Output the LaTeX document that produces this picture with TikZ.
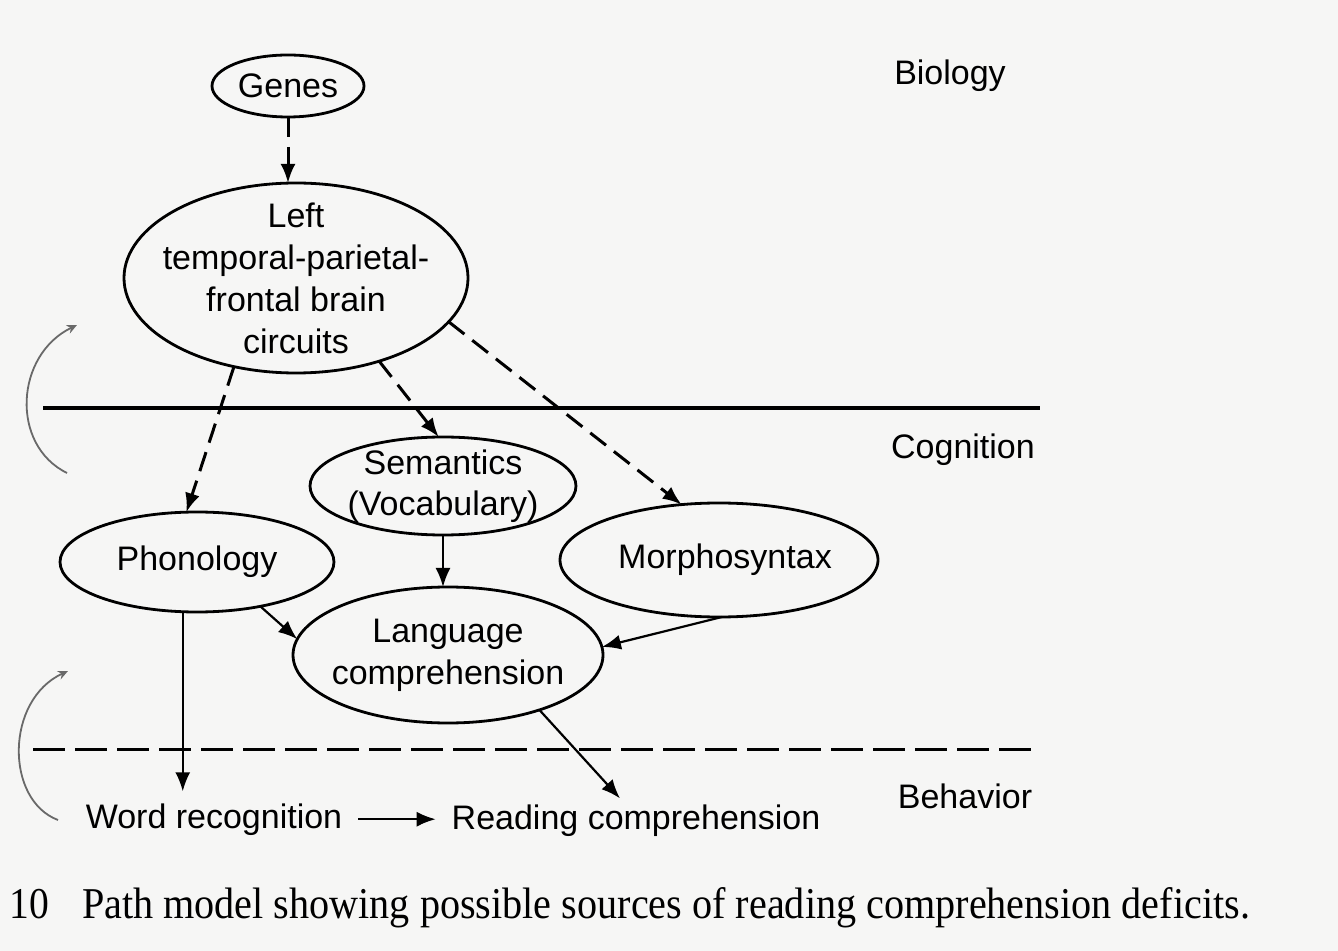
\documentclass[tikz,border=0pt]{standalone}
\usepackage{fontspec}
\setmainfont{Liberation Sans}
\newfontfamily\captionfont{Liberation Serif}
\usetikzlibrary{shapes.geometric,arrows.meta,calc}
\definecolor{paper}{RGB}{246,246,245}
\definecolor{arcgray}{RGB}{105,105,105}

\begin{document}
\begin{tikzpicture}[x=0.5pt,y=-0.5pt,
  every node/.style={inner sep=0pt, outer sep=0pt},
  txt/.style={align=center, font=\fontsize{17}{21}\selectfont},
  box/.style={ellipse, draw, line width=1.4pt},
  lbl/.style={font=\fontsize{17}{21}\selectfont},
  tip/.style={-{Latex[length=9.5pt,width=7.5pt]}},
  dlink/.style={tip, line width=1.5pt, dash pattern=on 10pt off 5pt},
  slink/.style={tip, line width=1.1pt},
  turn/.style={arcgray, line width=0.9pt, -{Stealth[length=5pt,width=4.5pt]}},
]
% page
\fill[paper] (0,0) rectangle (1338,951);
\useasboundingbox (0,0) rectangle (1338,951);

% level dividers
\coordinate (bioL) at (43,408);
\coordinate (bioR) at (1040,408);
\coordinate (cogL) at (33,749);
\coordinate (cogR) at (1038,749);
\draw[line width=1.9pt] (bioL) -- (bioR);
\draw[line width=1.5pt, dash pattern=on 16pt off 5pt] (cogL) -- (cogR);

% level names
\node[lbl, anchor=base] (biology) at (950,85) {Biology};
\node[lbl, anchor=base] (cognition) at (963,459) {Cognition};
\node[lbl, anchor=base] (behavior) at (965,808) {Behavior};

% constructs
\node[box, minimum width=76pt, minimum height=31pt,
      label={[txt]center:Genes}] (genes) at (288,86) {};
\node[box, minimum width=172pt, minimum height=95pt,
      label={[txt]center:{Left\\temporal-parietal-\\frontal brain\\circuits}}] (brain) at (296,278) {};
\node[box, minimum width=133pt, minimum height=49pt,
      label={[txt, font=\fontsize{17}{20.5}\selectfont]center:{Semantics\\(Vocabulary)}}] (sem) at (443,486) {};
\node[box, minimum width=137pt, minimum height=50pt,
      label={[txt]center:Phonology}] (phon) at (197,562) {};
\node[box, minimum width=159pt, minimum height=57pt,
      label={[txt, xshift=3pt]center:Morphosyntax}] (morph) at (719,560) {};
\node[box, minimum width=155pt, minimum height=68pt,
      label={[txt]center:{Language\\comprehension}}] (lang) at (448,655) {};

% observed outcomes
\node[lbl, anchor=base, inner xsep=8pt, inner ysep=6pt] (word) at (214,828) {Word recognition};
\node[lbl, anchor=base, inner xsep=8pt, inner ysep=3pt] (read) at (636,829) {Reading comprehension};

% paths
\draw[dlink] (genes.south) -- (genes.south |- brain.north);
\draw[dlink] (brain.235) -- (phon.102);
\draw[dlink] (brain.315) -- (sem.95);
\draw[dlink] (brain.344) -- (morph.124);
\draw[slink] (sem.south) -- (sem.south |- lang.north);
\draw[slink] (phon.325) -- (lang.174);
\draw[slink] (morph.273) -- (lang.3);
\draw[slink] (phon.254) -- (phon.254 |- word.north);
\draw[slink] (word.east) -- (word.east -| read.west);
\draw[slink] (lang.329) -- ($(read.north west)!0.46!(read.north east)$);

% feedback arcs
\coordinate (upA0) at (67,473);
\coordinate (upA1) at (77,325);
\coordinate (upB0) at (58,820);
\coordinate (upB1) at (68,671);
\draw[turn] (upA0) .. controls (10,445) and (15,355) .. (upA1);
\draw[turn] (upB0) .. controls (5,800) and (5,700) .. (upB1);

% caption
\node[anchor=base west, font=\captionfont\fontsize{22}{26}\selectfont] (fignum) at (10,918)
  {\scalebox{0.9}[1]{10}};
\node[anchor=base west, font=\captionfont\fontsize{22}{26}\selectfont] (caption) at (82,918)
  {\scalebox{0.913}[1]{Path model showing possible sources of reading comprehension deficits.}};
\end{tikzpicture}
\end{document}
